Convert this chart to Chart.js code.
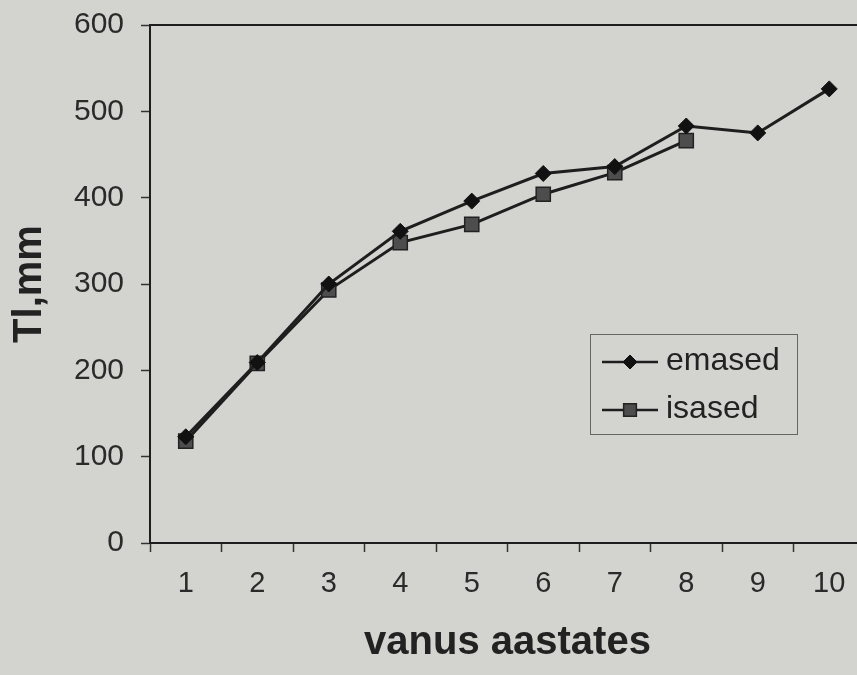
<!DOCTYPE html>
<html>
<head>
<meta charset="utf-8">
<script src="https://cdn.jsdelivr.net/npm/chart.js@4.4.0/dist/chart.umd.min.js"></script>
<style>
html, body { margin: 0; padding: 0; background: #d3d4d0; overflow: hidden; }
#wrap { width: 880px; height: 675px; }
</style>
</head>
<body>
<div id="wrap"><canvas id="myCanvas" width="880" height="675"></canvas></div>
<script>
// data
let ages = ["1", "2", "3", "4", "5", "6", "7", "8", "9", "10"]
let emased = [123, 209, 300, 361, 396, 428, 436, 483, 475, 526]
let isased = [118, 208, 293, 348, 369, 404, 429, 466, null, null]
let seriesNames = ["emased", "isased"]
let yMin = 0
let yMax = 600
let yStep = 100

let ink = "#1e1e1e"
let font = "'Liberation Sans', Arial, sans-serif"

// top and right edge of the plot frame
let frame = {
    id: "frame",
    beforeDatasetsDraw(chart) {
        let a = chart.chartArea
        let c = chart.ctx
        c.save()
        c.strokeStyle = ink
        c.lineWidth = 2
        c.beginPath()
        c.moveTo(a.left, a.top)
        c.lineTo(a.right, a.top)
        c.lineTo(a.right, a.bottom)
        c.stroke()
        c.restore()
    }
}

// legend box sitting inside the plot
let legendBox = {
    id: "legendBox",
    afterDraw(chart) {
        let c = chart.ctx
        let x = 590, y = 334, w = 207, h = 100
        c.save()
        c.fillStyle = "#d3d4d0"
        c.fillRect(x, y, w, h)
        c.strokeStyle = "#666"
        c.lineWidth = 1
        c.strokeRect(x + 0.5, y + 0.5, w, h)
        chart.data.datasets.forEach(function (ds, i) {
            let ly = y + 28 + i * 48
            c.strokeStyle = ds.borderColor
            c.lineWidth = 2.5
            c.beginPath()
            c.moveTo(x + 12, ly)
            c.lineTo(x + 68, ly)
            c.stroke()
            c.fillStyle = ds.pointBackgroundColor
            c.strokeStyle = ds.pointBorderColor
            c.lineWidth = ds.pointBorderWidth
            Chart.helpers.drawPoint(c, { pointStyle: ds.pointStyle, radius: ds.pointRadius - 1, borderWidth: ds.pointBorderWidth }, x + 40, ly)
            c.fillStyle = "#222"
            c.font = "32px " + font
            c.textBaseline = "middle"
            c.fillText(ds.label, x + 76, ly - 1)
        })
        c.restore()
    }
}

let ctx = document.querySelector("#myCanvas").getContext("2d")
let chart = new Chart(ctx, {
    type: "line",
    data: {
        labels: ages,
        datasets: [{
            label: seriesNames[0],
            data: emased,
            borderColor: ink,
            borderWidth: 3,
            pointStyle: "rectRot",
            pointRadius: 8,
            pointBackgroundColor: "#111",
            pointBorderColor: "#111",
            pointBorderWidth: 1,
            tension: 0
        }, {
            label: seriesNames[1],
            data: isased,
            borderColor: ink,
            borderWidth: 3,
            pointStyle: "rect",
            pointRadius: 10,
            pointBackgroundColor: "#4d4d4d",
            pointBorderColor: "#222",
            pointBorderWidth: 1.5,
            tension: 0
        }]
    },
    options: {
        responsive: false,
        animation: false,
        devicePixelRatio: 1,
        layout: { padding: { top: 25, right: 15, left: 0, bottom: 0 } },
        plugins: {
            legend: { display: false },
            tooltip: { enabled: false }
        },
        scales: {
            x: {
                type: "category",
                offset: true,
                grid: { offset: true, drawOnChartArea: false, tickLength: 9, color: "#333", tickWidth: 1.5 },
                border: { color: ink, width: 2 },
                ticks: { color: "#2a2a2a", font: { size: 29, family: font }, padding: 15, maxRotation: 0 },
                title: {
                    display: true, text: "vanus aastates", color: "#222",
                    font: { size: 40, weight: "bold", family: font },
                    padding: { top: 0, bottom: 8 }
                },
                afterFit: function (s) {
                    s.height = 132
                    s.paddingLeft = 0
                    s.paddingRight = 0
                }
            },
            y: {
                min: yMin,
                max: yMax,
                grid: { drawOnChartArea: false, tickLength: 9, color: "#333", tickWidth: 1.5 },
                border: { color: ink, width: 2 },
                ticks: { stepSize: yStep, color: "#2a2a2a", font: { size: 30, family: font }, padding: 17 },
                title: {
                    display: true, text: "Tl,mm", color: "#222",
                    font: { size: 40, weight: "bold", family: font },
                    padding: { top: 6, bottom: 0 }
                },
                afterFit: function (s) {
                    s.width = 150
                    s.paddingTop = 0
                    s.paddingBottom = 0
                }
            }
        }
    },
    plugins: [frame, legendBox]
})
</script>
</body>
</html>
